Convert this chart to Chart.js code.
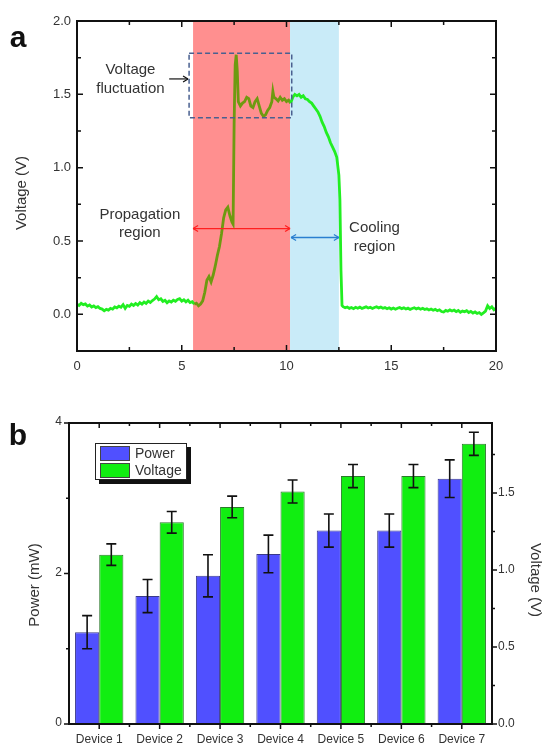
<!DOCTYPE html>
<html>
<head>
<meta charset="utf-8">
<script src="https://cdn.jsdelivr.net/npm/chart.js@4.4.1/dist/chart.umd.min.js"></script>
<style>
  html, body { margin: 0; padding: 0; background: #fff; }
  #wrap { position: relative; width: 542px; height: 747px; }
  canvas { position: absolute; left: 0; }
  #chartA { top: 0; }
  #chartB { top: 385px; }
</style>
</head>
<body>
<div id="wrap">
  <canvas id="chartA" width="542" height="385"></canvas>
  <canvas id="chartB" width="542" height="362"></canvas>
</div>
<script>
// ---- panel a : voltage trace ----
const traceTime = [
  0.0, 0.1, 0.2, 0.3, 0.4, 0.5, 0.6, 0.7, 0.8, 0.9,
  1.0, 1.1, 1.2, 1.3, 1.4, 1.5, 1.6, 1.7, 1.8, 1.9,
  2.0, 2.1, 2.2, 2.3, 2.4, 2.5, 2.6, 2.7, 2.8, 2.9,
  3.0, 3.1, 3.2, 3.3, 3.4, 3.5, 3.6, 3.7, 3.8, 3.9,
  4.0, 4.1, 4.2, 4.3, 4.4, 4.5, 4.6, 4.7, 4.8, 4.9,
  5.0, 5.1, 5.2, 5.3, 5.4, 5.5, 5.6, 5.7, 5.8, 5.9,
  6.0, 6.1, 6.2, 6.3, 6.4, 6.5, 6.6, 6.7, 6.8, 6.9,
  7.0, 7.1, 7.2, 7.3, 7.4, 7.45, 7.5, 7.55, 7.6, 7.65, 7.7,
  7.8, 7.9, 8.0, 8.1, 8.2, 8.3, 8.4, 8.5, 8.6, 8.7, 8.8, 8.9,
  9.0, 9.1, 9.2, 9.3, 9.35, 9.4, 9.5, 9.6, 9.7, 9.8, 9.9,
  10.0, 10.1, 10.2, 10.3, 10.4, 10.5, 10.6, 10.7, 10.8, 10.9,
  11.0, 11.1, 11.2, 11.3, 11.4, 11.5, 11.6, 11.7, 11.8, 11.9,
  12.0, 12.1, 12.2, 12.3, 12.4, 12.5, 12.55, 12.6, 12.65,
  12.7, 12.8, 12.9, 13.0, 13.1, 13.2, 13.3, 13.4, 13.5, 13.6, 13.7, 13.8, 13.9,
  14.0, 14.1, 14.2, 14.3, 14.4, 14.5, 14.6, 14.7, 14.8, 14.9,
  15.0, 15.1, 15.2, 15.3, 15.4, 15.5, 15.6, 15.7, 15.8, 15.9,
  16.0, 16.1, 16.2, 16.3, 16.4, 16.5, 16.6, 16.7, 16.8, 16.9,
  17.0, 17.1, 17.2, 17.3, 17.4, 17.5, 17.6, 17.7, 17.8, 17.9,
  18.0, 18.1, 18.2, 18.3, 18.4, 18.5, 18.6, 18.7, 18.8, 18.9,
  19.0, 19.1, 19.2, 19.3, 19.4, 19.5, 19.6, 19.7, 19.8, 19.9, 20.0
];
const traceVolt = [
  0.070, 0.060, 0.075, 0.066, 0.071, 0.056, 0.064, 0.050, 0.057, 0.046,
  0.052, 0.040, 0.036, 0.024, 0.034, 0.029, 0.041, 0.035, 0.050, 0.044,
  0.056, 0.049, 0.066, 0.040, 0.060, 0.054, 0.070, 0.061, 0.074, 0.063,
  0.080, 0.069, 0.084, 0.074, 0.090, 0.081, 0.094, 0.104, 0.121, 0.100,
  0.106, 0.088, 0.096, 0.079, 0.091, 0.084, 0.096, 0.089, 0.101, 0.107,
  0.090, 0.099, 0.085, 0.096, 0.080, 0.086, 0.069, 0.076, 0.058, 0.070,
  0.092, 0.150, 0.232, 0.258, 0.221, 0.268, 0.330, 0.402, 0.462, 0.551,
  0.658, 0.712, 0.731, 0.672, 0.628, 0.615, 1.30, 1.70, 1.77, 1.66, 1.45,
  1.42, 1.44, 1.45, 1.48, 1.47, 1.42, 1.41, 1.45, 1.47, 1.42, 1.37, 1.35,
  1.36, 1.39, 1.41, 1.45, 1.52, 1.48, 1.47, 1.455, 1.48, 1.46, 1.47,
  1.45, 1.46, 1.44, 1.48, 1.50, 1.49, 1.50, 1.48, 1.49, 1.47,
  1.465, 1.45, 1.44, 1.42, 1.40, 1.38, 1.35, 1.31, 1.28, 1.24,
  1.21, 1.17, 1.14, 1.11, 1.07, 0.95, 0.78, 0.30, 0.06,
  0.052, 0.045, 0.050, 0.041, 0.047, 0.039, 0.048, 0.042, 0.049, 0.040, 0.046, 0.051, 0.043,
  0.048, 0.040, 0.047, 0.052, 0.044, 0.049, 0.041, 0.046, 0.038, 0.045,
  0.036, 0.043, 0.035, 0.042, 0.047, 0.039, 0.044, 0.036, 0.042, 0.034,
  0.040, 0.045, 0.037, 0.043, 0.035, 0.041, 0.033, 0.038, 0.030, 0.036,
  0.028, 0.034, 0.025, 0.031, 0.019, 0.016, 0.027, 0.021, 0.030, 0.023,
  0.029, 0.018, 0.026, 0.014, 0.022, 0.017, 0.025, 0.012, 0.020, 0.009,
  0.016, 0.006, 0.012, -0.001, 0.010, 0.022, 0.058, 0.040, 0.052, 0.031, 0.042
];
const propagationRegion = [5.54, 10.17];
const coolingRegion = [10.17, 12.5];
const fluctuationBox = { t0: 5.35, t1: 10.25, v0: 1.34, v1: 1.78 };
const timeTicks = [0, 5, 10, 15, 20];
const timeMinor = [2.5, 7.5, 12.5, 17.5];
const voltTicks = [0, 0.5, 1.0, 1.5, 2.0];
const voltMinor = [0.25, 0.75, 1.25, 1.75];

// ---- panel b : device comparison ----
const devices = ['Device 1', 'Device 2', 'Device 3', 'Device 4', 'Device 5', 'Device 6', 'Device 7'];
const power = [1.22, 1.70, 1.97, 2.26, 2.57, 2.57, 3.26];
const powerErr = [0.22, 0.22, 0.28, 0.25, 0.22, 0.22, 0.25];
const voltage = [1.10, 1.31, 1.41, 1.51, 1.61, 1.61, 1.82];
const voltageErr = [0.07, 0.07, 0.07, 0.075, 0.075, 0.075, 0.075];
const powerTicks = [0, 2, 4];
const powerMinor = [1, 3];
const voltBTicks = [0, 0.5, 1.0, 1.5];
const voltBMinor = [0.25, 0.75, 1.25, 1.75];

const FONT = '"Liberation Sans", Arial, Helvetica, sans-serif';
const TXT = '#333';

function text(ctx, str, x, y, size, opts = {}) {
  ctx.save();
  ctx.font = (opts.bold ? 'bold ' : '') + size + 'px ' + FONT;
  ctx.fillStyle = opts.color || TXT;
  ctx.textAlign = opts.align || 'center';
  ctx.textBaseline = opts.baseline || 'middle';
  ctx.translate(x, y);
  if (opts.rotate) ctx.rotate(opts.rotate);
  ctx.fillText(str, 0, 0);
  ctx.restore();
}

function arrowHead(ctx, x, y, dir, size) {
  ctx.beginPath();
  ctx.moveTo(x, y);
  ctx.lineTo(x - dir * size, y - size * 0.6);
  ctx.moveTo(x, y);
  ctx.lineTo(x - dir * size, y + size * 0.6);
  ctx.stroke();
}

function doubleArrow(ctx, x0, x1, y, color) {
  ctx.save();
  ctx.strokeStyle = color;
  ctx.lineWidth = 1.3;
  ctx.beginPath();
  ctx.moveTo(x0, y);
  ctx.lineTo(x1, y);
  ctx.stroke();
  arrowHead(ctx, x0, y, -1, 5);
  arrowHead(ctx, x1, y, 1, 5);
  ctx.restore();
}

const panelA = {
  id: 'panelA',
  beforeDatasetsDraw(chart) {
    const { ctx, chartArea: a, scales: { x } } = chart;
    ctx.save();
    ctx.fillStyle = '#ff8f8f';
    let p0 = x.getPixelForValue(propagationRegion[0]), p1 = x.getPixelForValue(propagationRegion[1]);
    ctx.fillRect(p0, a.top, p1 - p0, a.bottom - a.top);
    ctx.fillStyle = '#c9ebf8';
    p0 = x.getPixelForValue(coolingRegion[0]); p1 = x.getPixelForValue(coolingRegion[1]);
    ctx.fillRect(p0, a.top, p1 - p0, a.bottom - a.top);
    ctx.restore();
  },
  afterDatasetsDraw(chart) {
    const { ctx, chartArea: a, scales: { x, y } } = chart;
    ctx.save();

    // dashed box round the fluctuation
    ctx.strokeStyle = '#4a6090';
    ctx.lineWidth = 1.5;
    ctx.setLineDash([5, 3]);
    const bx = x.getPixelForValue(fluctuationBox.t0), by = y.getPixelForValue(fluctuationBox.v1);
    ctx.strokeRect(bx, by, x.getPixelForValue(fluctuationBox.t1) - bx, y.getPixelForValue(fluctuationBox.v0) - by);
    ctx.setLineDash([]);

    // annotations
    text(ctx, 'Voltage', x.getPixelForValue(2.55), y.getPixelForValue(1.67), 15);
    text(ctx, 'fluctuation', x.getPixelForValue(2.55), y.getPixelForValue(1.54), 15);
    ctx.strokeStyle = '#111';
    ctx.lineWidth = 1.2;
    const ay = y.getPixelForValue(1.605);
    ctx.beginPath();
    ctx.moveTo(x.getPixelForValue(4.4), ay);
    ctx.lineTo(x.getPixelForValue(5.3), ay);
    ctx.stroke();
    arrowHead(ctx, x.getPixelForValue(5.3), ay, 1, 5);

    text(ctx, 'Propagation', x.getPixelForValue(3.0), y.getPixelForValue(0.68), 15);
    text(ctx, 'region', x.getPixelForValue(3.0), y.getPixelForValue(0.558), 15);
    doubleArrow(ctx, x.getPixelForValue(propagationRegion[0]), x.getPixelForValue(propagationRegion[1]), y.getPixelForValue(0.585), '#ff2020');
    doubleArrow(ctx, x.getPixelForValue(coolingRegion[0]) + 1, x.getPixelForValue(coolingRegion[1]), y.getPixelForValue(0.524), '#2a7fd0');
    text(ctx, 'Cooling', x.getPixelForValue(14.2), y.getPixelForValue(0.59), 15);
    text(ctx, 'region', x.getPixelForValue(14.2), y.getPixelForValue(0.46), 15);

    // frame and inward ticks
    ctx.strokeStyle = '#111';
    ctx.lineWidth = 2;
    ctx.strokeRect(a.left, a.top, a.right - a.left, a.bottom - a.top);
    ctx.lineWidth = 1.5;
    ctx.beginPath();
    timeTicks.concat(timeMinor).forEach(t => {
      const px = x.getPixelForValue(t), len = timeTicks.includes(t) ? 6 : 4;
      ctx.moveTo(px, a.bottom); ctx.lineTo(px, a.bottom - len);
      ctx.moveTo(px, a.top); ctx.lineTo(px, a.top + len);
    });
    voltTicks.concat(voltMinor).forEach(v => {
      const py = y.getPixelForValue(v), len = voltTicks.includes(v) ? 6 : 4;
      ctx.moveTo(a.left, py); ctx.lineTo(a.left + len, py);
      ctx.moveTo(a.right, py); ctx.lineTo(a.right - len, py);
    });
    ctx.stroke();

    timeTicks.forEach(t => text(ctx, String(t), x.getPixelForValue(t), a.bottom + 15, 13));
    voltTicks.forEach(v => text(ctx, v.toFixed(1), a.left - 6, y.getPixelForValue(v), 13, { align: 'right' }));

    text(ctx, 'Time (ms)', (a.left + a.right) / 2, 392, 15);
    text(ctx, 'Voltage (V)', 22, 193, 15, { rotate: -Math.PI / 2 });
    text(ctx, 'a', 18, 47, 30, { bold: true, color: '#111', baseline: 'alphabetic' });
    ctx.restore();
  }
};

const inPropagation = t => t >= propagationRegion[0] && t < propagationRegion[1];

new Chart(document.getElementById('chartA'), {
  type: 'line',
  data: {
    datasets: [{
      data: traceTime.map((t, i) => ({ x: t, y: traceVolt[i] })),
      borderColor: '#22ee22',
      borderWidth: 2.8,
      pointRadius: 0,
      tension: 0,
      segment: {
        borderColor: c => inPropagation(c.p0.parsed.x) ? '#6e9a10' : undefined
      }
    }]
  },
  options: {
    responsive: false,
    animation: false,
    devicePixelRatio: 1,
    layout: { padding: { left: 77, top: 21, right: 46, bottom: 34 } },
    scales: {
      x: { type: 'linear', min: 0, max: 20, display: false },
      y: { min: -0.25, max: 2.0, display: false }
    },
    plugins: { legend: { display: false }, tooltip: { enabled: false } }
  },
  plugins: [panelA]
});

const panelB = {
  id: 'panelB',
  afterDatasetsDraw(chart) {
    const { ctx, chartArea: a, scales } = chart;
    const x = scales.x, yP = scales.yP, yV = scales.yV;
    ctx.save();

    // error bars
    const errs = [powerErr, voltageErr];
    ctx.strokeStyle = '#111';
    ctx.lineWidth = 1.6;
    chart.data.datasets.forEach((ds, i) => {
      const meta = chart.getDatasetMeta(i);
      const sc = scales[ds.yAxisID];
      meta.data.forEach((bar, j) => {
        const top = sc.getPixelForValue(ds.data[j] + errs[i][j]);
        const bot = sc.getPixelForValue(ds.data[j] - errs[i][j]);
        ctx.beginPath();
        ctx.moveTo(bar.x, top); ctx.lineTo(bar.x, bot);
        ctx.moveTo(bar.x - 5, top); ctx.lineTo(bar.x + 5, top);
        ctx.moveTo(bar.x - 5, bot); ctx.lineTo(bar.x + 5, bot);
        ctx.stroke();
      });
    });

    // legend with drop shadow
    ctx.fillStyle = '#111';
    ctx.fillRect(99, 62, 92, 37);
    ctx.fillStyle = '#fff';
    ctx.fillRect(95, 58, 92, 37);
    ctx.strokeStyle = '#222';
    ctx.lineWidth = 1;
    ctx.strokeRect(95.5, 58.5, 91, 36);
    [['Power', '#5050ff', 61], ['Voltage', '#11ee11', 78]].forEach(([lbl, col, ty]) => {
      ctx.fillStyle = col;
      ctx.fillRect(100, ty, 30, 15);
      ctx.strokeStyle = '#444';
      ctx.strokeRect(100.5, ty + 0.5, 29, 14);
      text(ctx, lbl, 135, ty + 8, 14, { align: 'left' });
    });

    // frame and ticks
    ctx.strokeStyle = '#111';
    ctx.lineWidth = 2;
    ctx.strokeRect(a.left, a.top, a.right - a.left, a.bottom - a.top);
    ctx.lineWidth = 1.5;
    ctx.beginPath();
    const half = (x.getPixelForValue(1) - x.getPixelForValue(0)) / 2;
    devices.forEach((d, i) => {
      const px = x.getPixelForValue(i);
      ctx.moveTo(px, a.bottom); ctx.lineTo(px, a.bottom + 5);
      ctx.moveTo(px, a.top); ctx.lineTo(px, a.top + 5);
      if (i < devices.length - 1) {
        ctx.moveTo(px + half, a.bottom); ctx.lineTo(px + half, a.bottom + 3);
        ctx.moveTo(px + half, a.top); ctx.lineTo(px + half, a.top + 3);
      }
    });
    powerTicks.concat(powerMinor).forEach(v => {
      const py = yP.getPixelForValue(v), len = powerTicks.includes(v) ? 5 : 3;
      ctx.moveTo(a.left, py); ctx.lineTo(a.left - len, py);
    });
    voltBTicks.concat(voltBMinor).forEach(v => {
      const py = yV.getPixelForValue(v), len = voltBTicks.includes(v) ? 5 : 3;
      ctx.moveTo(a.right, py); ctx.lineTo(a.right + len, py);
    });
    ctx.stroke();

    devices.forEach((d, i) => text(ctx, d, x.getPixelForValue(i), 355, 12));
    powerTicks.forEach(v => text(ctx, String(v), 62, yP.getPixelForValue(v) - 1, 12, { align: 'right' }));
    voltBTicks.forEach(v => text(ctx, v.toFixed(1), 498, yV.getPixelForValue(v), 12, { align: 'left' }));

    text(ctx, 'Power (mW)', 35, 200, 15, { rotate: -Math.PI / 2 });
    text(ctx, 'Voltage (V)', 535, 195, 15, { rotate: Math.PI / 2 });
    text(ctx, 'b', 18, 60, 30, { bold: true, color: '#111', baseline: 'alphabetic' });
    ctx.restore();
  }
};

new Chart(document.getElementById('chartB'), {
  type: 'bar',
  data: {
    labels: devices,
    datasets: [
      { label: 'Power', data: power, yAxisID: 'yP', backgroundColor: '#5050ff', borderColor: '#3a3a8a', borderWidth: 1 },
      { label: 'Voltage', data: voltage, yAxisID: 'yV', backgroundColor: '#11ee11', borderColor: '#2a7a2a', borderWidth: 1 }
    ]
  },
  options: {
    responsive: false,
    animation: false,
    devicePixelRatio: 1,
    categoryPercentage: 0.8,
    barPercentage: 1.0,
    layout: { padding: { left: 69, top: 38, right: 50, bottom: 23 } },
    scales: {
      x: { display: false },
      yP: { position: 'left', min: 0, max: 4, display: false },
      yV: { position: 'right', min: 0, max: 1.955, display: false }
    },
    plugins: { legend: { display: false }, tooltip: { enabled: false } }
  },
  plugins: [panelB]
});
</script>
</body>
</html>
